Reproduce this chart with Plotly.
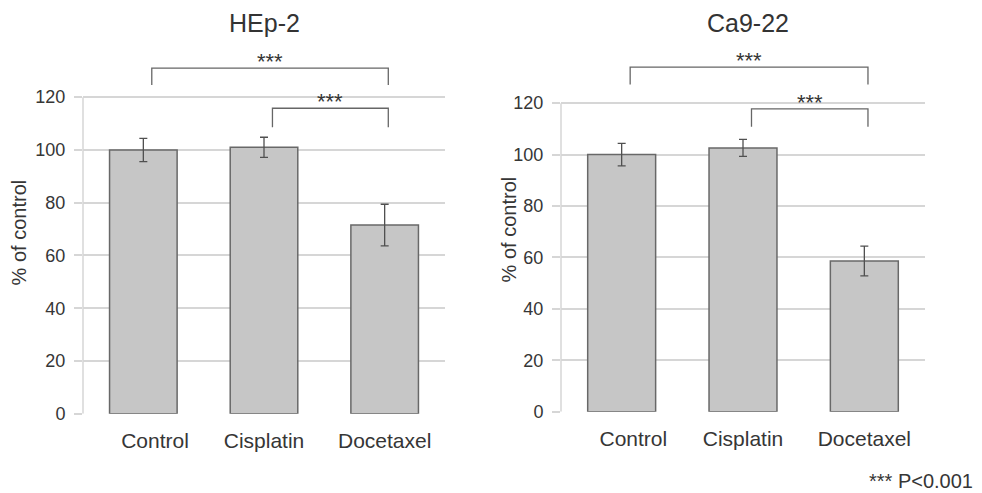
import plotly.graph_objects as go

# ---- data ----
categories = ["Control", "Cisplatin", "Docetaxel"]
hep2_values = [100, 101, 71.5]
hep2_errors = [4.4, 3.8, 7.9]
ca922_values = [100, 102.6, 58.6]
ca922_errors = [4.4, 3.3, 5.8]
panel_titles = ["HEp-2", "Ca9-22"]
y_ticks = [0, 20, 40, 60, 80, 100, 120]
# significance comparisons: (from index, to index, label)
hep2_sig = [(0, 2, "***"), (1, 2, "***")]
ca922_sig = [(0, 2, "***"), (1, 2, "***")]
# bracket heights (top, drop) in data units
hep2_brackets = [(131, 124.6), (115.8, 108.6)]
ca922_brackets = [(134, 127.3), (117.8, 110.8)]
footnote = "*** P<0.001"

FONT = "Arial, Liberation Sans, sans-serif"
TXT = "#363636"
GRID = "#d6d6d6"
BAR = "#c6c6c6"
EDGE = "#686868"

W, H = 982, 493
S = 1.0225  # vertical compensation


def px(x):
    return x / W


def py(t):
    return 1 - t * S / H


# first label sits slightly right of its bar in the original
tick_text = ["\u00a0\u00a0\u00a0\u00a0" + categories[0]] + categories[1:]

fig = go.Figure()

panels = [
    (hep2_values, hep2_errors, hep2_sig, hep2_brackets, "x", "y"),
    (ca922_values, ca922_errors, ca922_sig, ca922_brackets, "x2", "y2"),
]

for vals, errs, sig, brk, xa, ya in panels:
    fig.add_trace(go.Bar(
        x=categories, y=vals, xaxis=xa, yaxis=ya, width=0.56,
        marker=dict(color=BAR, line=dict(color=EDGE, width=1.5)),
        error_y=dict(type="data", array=errs, color="#505050",
                     thickness=1.3, width=4),
        showlegend=False, hoverinfo="skip",
    ))
    # y axis line from 0 to 120
    fig.add_shape(type="line", xref=xa + " domain", yref=ya,
                  x0=0, x1=0, y0=0, y1=y_ticks[-1],
                  line=dict(color=GRID, width=1.5), layer="below")
    for (i0, i1, lab), (top, drop) in zip(sig, brk):
        xs = i0 + 0.07
        xe = i1 + 0.03
        fig.add_shape(type="path", xref=xa, yref=ya,
                      path=f"M {xs},{drop} L {xs},{top} L {xe},{top} L {xe},{drop}",
                      line=dict(color="#666666", width=1.3))
        fig.add_annotation(x=(xs + xe) / 2, y=top, xref=xa, yref=ya,
                           text=lab, showarrow=False, yanchor="bottom",
                           yshift=-8, font=dict(family=FONT, size=22, color=TXT))

axis_common_x = dict(
    type="category", range=[-0.5, 2.5], showgrid=False, showline=False,
    zeroline=False, ticks="", ticklabelstandoff=12,
    tickvals=categories, ticktext=tick_text,
    tickfont=dict(family=FONT, size=21, color=TXT), fixedrange=True,
)
axis_common_y = dict(
    range=[0, 136], tickvals=y_ticks, showgrid=True, gridcolor=GRID,
    gridwidth=1.5, zeroline=False, showline=False, ticks="outside",
    ticklen=8, tickcolor=GRID, tickwidth=1.5, ticklabelstandoff=5,
    tickfont=dict(family=FONT, size=18, color=TXT), fixedrange=True,
)

fig.update_layout(
    width=W, height=H,
    margin=dict(l=0, r=0, t=0, b=0),
    plot_bgcolor="white", paper_bgcolor="white",
    xaxis=dict(domain=[px(83), px(445)], anchor="y", **axis_common_x),
    yaxis=dict(domain=[py(413), py(413 - 136 * 316 / 120)], anchor="x", **axis_common_y),
    xaxis2=dict(domain=[px(561), px(925)], anchor="y2", **axis_common_x),
    yaxis2=dict(domain=[py(411), py(411 - 136 * 308 / 120)], anchor="x2", **axis_common_y),
)

# titles
for xpos, t in zip([264, 748], panel_titles):
    fig.add_annotation(x=px(xpos), y=py(22.5), xref="paper", yref="paper",
                       text=t, showarrow=False, xanchor="center", yanchor="middle",
                       font=dict(family=FONT, size=25, color="#333333"))
# y-axis titles
for xpos, ypos in [(19, 232), (509, 229)]:
    fig.add_annotation(x=px(xpos), y=py(ypos), xref="paper", yref="paper",
                       text="% of control", textangle=-90, showarrow=False,
                       xanchor="center", yanchor="middle",
                       font=dict(family=FONT, size=20, color=TXT))
# footnote
fig.add_annotation(x=px(975), y=py(480), xref="paper", yref="paper",
                   text=footnote, showarrow=False, xanchor="right", yanchor="middle",
                   font=dict(family=FONT, size=20, color=TXT))

fig.write_html("out.html", config={"displayModeBar": False},
               post_script="document.body.style.margin='0';document.body.style.overflow='hidden';")
